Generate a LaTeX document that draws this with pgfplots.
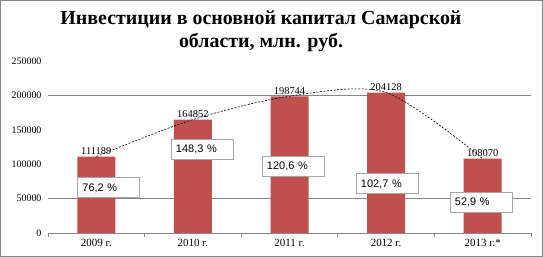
\documentclass[border=0pt]{standalone}
\usepackage{pgfplots}
\pgfplotsset{compat=1.18}
\usepackage{fontspec}
\setmainfont{Liberation Serif}
\newfontfamily\titlefont{Liberation Serif}[BoldFont={* Bold}]
\newfontfamily\arialfont{Liberation Sans}
\definecolor{barred}{HTML}{C0504D}
\definecolor{gridgray}{HTML}{868686}
\definecolor{boxgray}{HTML}{A6A6A6}
\begin{document}
\begin{tikzpicture}
\useasboundingbox (0,0) rectangle (543bp,257bp);
\draw[gridgray, line width=1.2bp] (0.6bp,0.6bp) rectangle (542.4bp,256.4bp);
\node[font=\titlefont\bfseries\fontsize{20}{23.5}\selectfont, align=center, inner sep=0pt] at (261bp,226bp)
  {Инвестиции в основной капитал Самарской\\области, млн. руб.};
\begin{axis}[
  at={(48bp,24bp)}, anchor=south west,
  scale only axis, width=483bp, height=172bp,
  xmin=-0.5, xmax=4.5, ymin=0, ymax=250000,
  axis x line*=bottom, axis y line*=left,
  x axis line style={gridgray, line width=0.8bp, -},
  y axis line style={draw=none},
  xtick={0,1,2,3,4},
  xticklabels={2009 г., 2010 г., 2011 г., 2012 г., 2013 г.*},
  major tick length=0pt,
  extra x ticks={-0.5,0.5,1.5,2.5,3.5,4.5},
  extra x tick labels={},
  extra x tick style={major tick length=4bp, tick align=outside, tick style={gridgray, line width=0.8bp}},
  ytick={0,50000,100000,150000,200000,250000},
  extra y ticks={50000,200000},
  extra y tick labels={},
  extra y tick style={grid=major, major grid style={gridgray, line width=0.8bp}},
  scaled y ticks=false,
  /pgf/number format/fixed,
  /pgf/number format/1000 sep={},
  /pgf/number format/assume math mode=true,
  tick label style={font=\fontsize{10}{12}\selectfont, black},
  xticklabel style={font=\fontsize{11}{13}\selectfont, yshift=-3bp},
  yticklabel style={xshift=-3bp},
  clip=false,
]
\addplot[ybar, bar width=38bp, fill=barred, draw=none,
  nodes near coords,
  every node near coord/.append style={font=\fontsize{10.5}{12}\selectfont, black, inner sep=1.5bp}]
  coordinates {(0,111189) (1,164852) (2,198744) (3,204128) (4,108070)};
\addplot[black, line width=0.6bp, dash pattern=on 2pt off 1.5pt, smooth, mark=none]
  coordinates {(0,111189) (1,164852) (2,198744) (3,204128) (4,108070)};
\addplot[draw=none, mark=none, nodes near coords, point meta=explicit symbolic,
  every node near coord/.append style={anchor=center, draw=boxgray, fill=white, line width=0.8bp,
    font=\arialfont\fontsize{11}{13}\selectfont, text width=52bp, align=left,
    inner xsep=5bp, minimum height=20bp, text depth=0pt}]
  table[meta=label] {
x y label
0.126 66400 {76,2 \%}
1.094 122100 {148,3 \%}
2.036 97400 {120,6 \%}
3.009 71950 {102,7 \%}
3.982 45060 {52,9 \%}
};
\end{axis}
\end{tikzpicture}
\end{document}
